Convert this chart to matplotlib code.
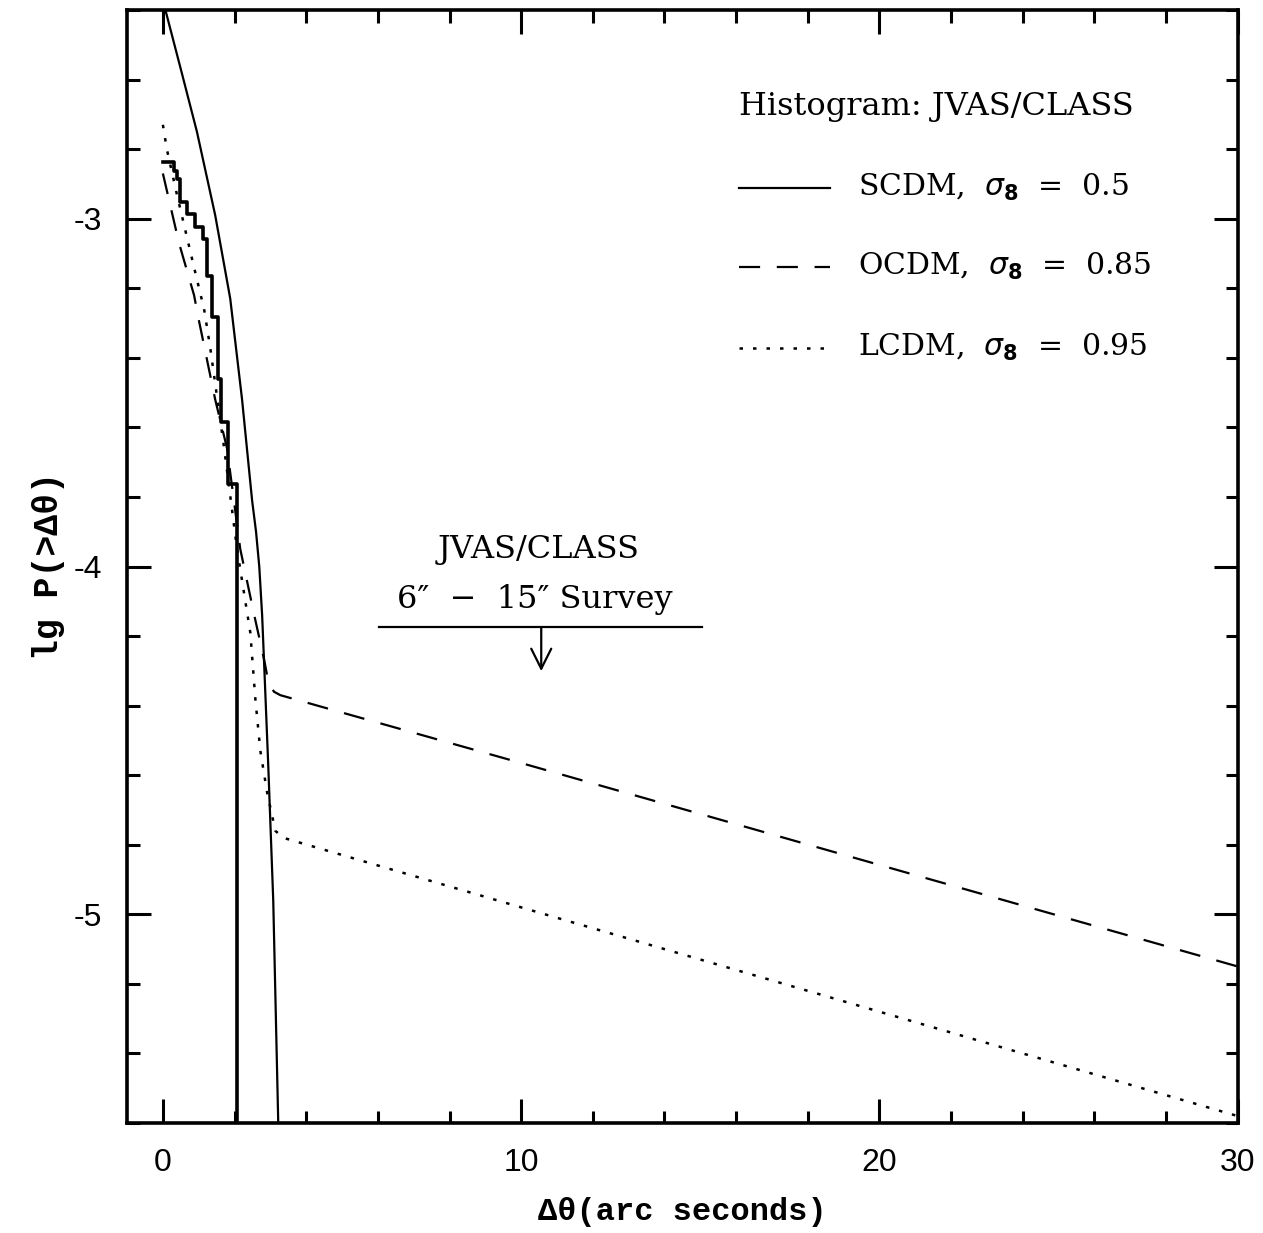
import numpy as np
import matplotlib.pyplot as plt
from matplotlib.ticker import MultipleLocator

plt.rcParams['axes.unicode_minus'] = False

# Histogram: JVAS/CLASS (step edges and levels)
hist_x = [0.0, 0.31, 0.39, 0.48, 0.67, 0.90, 1.12, 1.23, 1.37, 1.54, 1.62, 1.82, 2.07]
hist_y = [-2.836, -2.862, -2.885, -2.951, -2.986, -3.023, -3.058, -3.164, -3.282, -3.460, -3.584, -3.763, -7.0]

# SCDM, sigma8 = 0.5
scdm_x = [0.06, 0.50, 0.95, 1.46, 1.88, 2.21, 2.49, 2.60, 2.69, 2.77, 2.83, 2.94, 3.08, 3.22]
scdm_y = [-2.396, -2.57, -2.75, -2.99, -3.23, -3.52, -3.81, -3.90, -4.00, -4.14, -4.29, -4.57, -4.96, -5.60]

# OCDM, sigma8 = 0.85
ocdm_x = [0.0, 0.45, 0.87, 1.00, 1.46, 1.79, 2.16, 2.55, 2.83, 2.94, 3.10, 3.28, 10.0, 20.0, 30.0]
ocdm_y = [-2.87, -3.07, -3.22, -3.29, -3.52, -3.66, -3.95, -4.14, -4.27, -4.33, -4.36, -4.37, -4.565, -4.858, -5.15]

# LCDM, sigma8 = 0.95
lcdm_x = [0.0, 0.11, 0.39, 0.87, 1.15, 1.32, 1.71, 2.07, 2.44, 2.58, 2.72, 2.91, 3.14, 3.36, 10.0, 20.0, 30.0]
lcdm_y = [-2.73, -2.80, -2.93, -3.14, -3.26, -3.37, -3.66, -3.95, -4.19, -4.38, -4.53, -4.65, -4.76, -4.78, -4.98, -5.28, -5.58]

fig = plt.figure(figsize=(12.63, 12.33), dpi=100)
ax = fig.add_axes([0.1006, 0.0892, 0.8794, 0.9027])

dash = (9.5, 7.5)
dot = (1.4, 4.0)

ax.plot(hist_x, hist_y, color='black', lw=2.6, drawstyle='steps-post')
ax.plot(scdm_x, scdm_y, color='black', lw=1.6)
ax.plot(ocdm_x, ocdm_y, color='black', lw=1.6, dashes=dash)
ax.plot(lcdm_x, lcdm_y, color='black', lw=1.8, dashes=dot)

ax.set_xlim(-1, 30)
ax.set_ylim(-5.6, -2.4)

ax.xaxis.set_major_locator(MultipleLocator(10))
ax.xaxis.set_minor_locator(MultipleLocator(2))
ax.yaxis.set_major_locator(MultipleLocator(1))
ax.yaxis.set_minor_locator(MultipleLocator(0.2))
ax.tick_params(which='both', direction='in', top=True, right=True, width=2.2)
ax.tick_params(which='major', length=17, pad=18, labelsize=23)
ax.tick_params(which='minor', length=9)
for lab in ax.get_xticklabels() + ax.get_yticklabels():
    lab.set_family('Liberation Sans')
for s in ax.spines.values():
    s.set_linewidth(2.6)

ax.set_xlabel('Δθ(arc seconds)', family='Liberation Mono', weight='bold', fontsize=23, labelpad=14)
ax.set_ylabel('lg P(>Δθ)', family='Liberation Mono', weight='bold', fontsize=25, labelpad=6)

# legend drawn by hand
serif = 'DejaVu Serif'
ax.text(16.08, -2.678, 'Histogram: JVAS/CLASS', family=serif, fontsize=23, va='center', ha='left')
ax.plot([16.08, 18.63], [-2.911, -2.911], color='black', lw=1.6)
ax.plot([16.08, 18.63], [-3.138, -3.138], color='black', lw=1.6, dashes=dash)
ax.plot([16.08, 18.63], [-3.371, -3.371], color='black', lw=1.8, dashes=dot)
ax.text(19.41, -2.911, r'SCDM,  $\sigma_\mathbf{8}$  =  0.5', family=serif, fontsize=21.5, va='center', ha='left')
ax.text(19.41, -3.138, r'OCDM,  $\sigma_\mathbf{8}$  =  0.85', family=serif, fontsize=21.5, va='center', ha='left')
ax.text(19.41, -3.371, r'LCDM,  $\sigma_\mathbf{8}$  =  0.95', family=serif, fontsize=21.5, va='center', ha='left')

# survey annotation
ax.text(10.48, -3.95, 'JVAS/CLASS', family=serif, fontsize=23, ha='center', va='center')
ax.text(10.39, -4.094, '6″  −  15″ Survey', family=serif, fontsize=23, ha='center', va='center')
ax.plot([6.02, 15.04], [-4.174, -4.174], color='black', lw=1.6)
ax.annotate('', xy=(10.56, -4.301), xytext=(10.56, -4.174),
            arrowprops=dict(arrowstyle='->', color='black', lw=1.6, mutation_scale=36,
                            shrinkA=0, shrinkB=0))

fig.savefig('out.png', dpi=100)
